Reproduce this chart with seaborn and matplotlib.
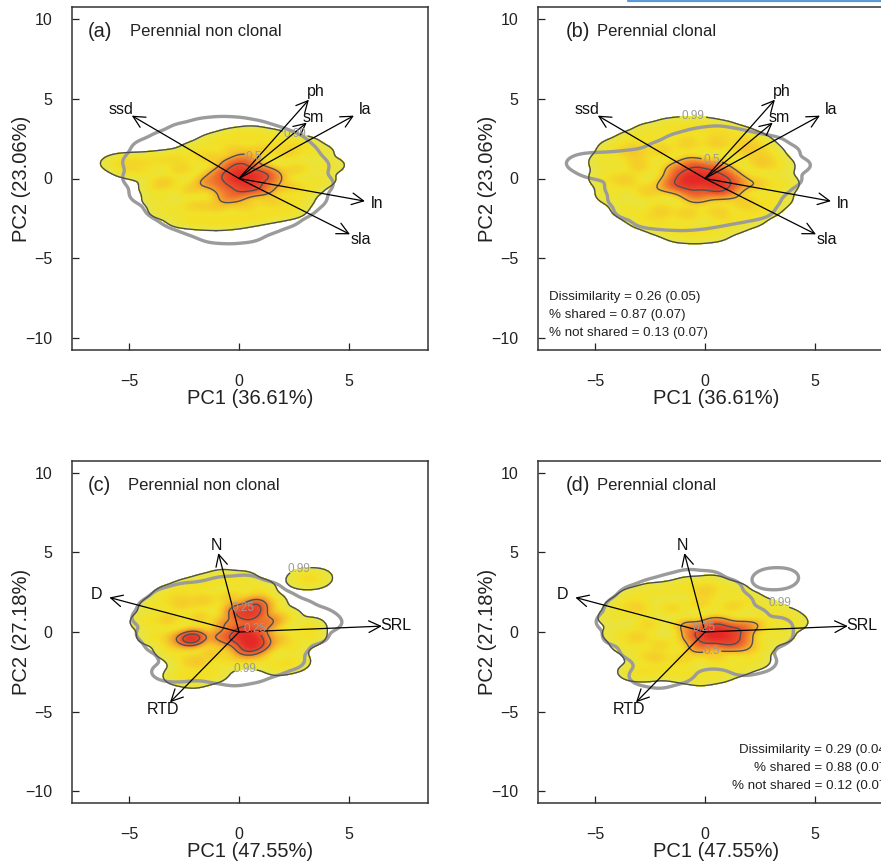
import numpy as np
import matplotlib
matplotlib.use("Agg")
import matplotlib.pyplot as plt
import seaborn as sns
from matplotlib.colors import LinearSegmentedColormap
from matplotlib.lines import Line2D

# ------------------------------------------------------------------
# DATA (species scores on the PCA axes, estimated from the figure;
# each group = core / middle / outer species with abundance weights)
# ------------------------------------------------------------------
w_core, w_mid, w_out = 4.0, 2.0, 1.0

# --- above-ground traits: perennial non clonal (panel a)
nca_core_pc1 = [0.0, 0.4, 0.8, -0.4, 0.2, 0.6, -0.2, 0.5, 1.2, -0.9, -0.7, 0.1, 1.1, 1.5, -1.4, -0.3,
                0.3, -0.5]
nca_core_pc2 = [0.1, 0.2, 0.0, -0.1, -0.4, -0.5, 0.5, 0.7, 0.4, 0.3, -0.6, -0.9, -0.7, 0.0, -0.2, 0.9,
                1.2, -1.2]
nca_mid_pc1 = [-2.6, -2.2, -2.0, -1.0, 0.3, 1.5, 2.2, 2.6, 2.2, 1.0, -0.2, -1.3, -3.4]
nca_mid_pc2 = [0.6, -0.7, -1.7, -1.8, -1.7, -1.4, -0.5, 0.6, 1.6, 1.8, 1.8, 1.3, -0.2]
nca_out_pc1 = [-5.5, -4.8, -4.0, -3.3, -2.6, -1.9, -1.1, -0.3, 0.5, 1.3, 2.1, 2.9, 3.5, 4.0,
               3.6, 3.0, 2.6, 2.3, 1.5, 0.7, -0.1, -0.9, -1.7, -2.5, -3.3, -3.6, -3.7, -4.3, -5.0]
nca_out_pc2 = [1.0, 1.05, 1.1, 1.2, 1.3, 1.8, 2.3, 2.6, 2.75, 2.55, 2.3, 2.1, 1.6, 0.8,
               -0.1, -0.7, -1.4, -2.0, -2.2, -2.4, -2.6, -2.7, -2.65, -2.55, -2.0, -1.3, -0.6, 0.4, 0.6]

# --- above-ground traits: perennial clonal (panel b)
ca_core_pc1 = [-0.7, -0.3, 0.2, 0.6, -1.1, -0.2, 0.3, 1.0, -0.7, -1.3, 0.9, 0.5, 1.4, -1.6, -0.4, -0.6]
ca_core_pc2 = [0.1, -0.1, 0.0, -0.3, -0.2, 0.5, -0.7, 0.2, -0.6, 0.5, -0.8, 0.7, -0.3, -0.4, -1.1, 0.9]
ca_mid_pc1 = [-3.0, -2.6, -2.0, -0.8, 0.6, 1.8, 2.4, 2.5, 1.8, 0.5, -0.8, -2.0, -3.2, -3.6]
ca_mid_pc2 = [0.8, -0.8, -2.0, -2.2, -2.1, -1.5, -0.3, 1.0, 1.8, 2.2, 2.2, 1.8, 1.6, -0.1]
ca_out_pc1 = [-4.5, -4.1, -3.3, -2.5, -1.6, -0.8, 0.0, 0.8, 1.6, 2.3, 2.8, 3.3, 3.5, 3.2,
              2.7, 2.0, 1.2, 0.4, -0.4, -1.2, -2.0, -2.8, -3.5, -4.2, -4.5]
ca_out_pc2 = [1.0, 1.8, 2.3, 2.8, 3.1, 3.2, 3.15, 2.95, 2.6, 2.2, 1.6, 0.8, -0.3, -1.2,
              -1.8, -2.4, -2.8, -3.3, -3.4, -3.35, -2.9, -2.5, -1.9, -1.0, 0.0]

above_traits = ["ssd", "ph", "sm", "la", "ln", "sla"]
above_load_pc1 = [-4.88, 3.18, 3.08, 5.23, 5.73, 5.05]
above_load_pc2 = [3.94, 4.94, 3.50, 3.94, -1.42, -3.50]

# --- root traits: perennial non clonal (panel c)
ncr_core_pc1 = [0.3, 0.6, 0.0, 0.9, 0.4, -0.3, 1.1, 0.2, -0.6, 0.5, 1.2, -0.2, 0.9, -0.9, 0.6,
                0.7, 0.1, -2.3, -2.0, -2.15]
ncr_core_pc2 = [-0.3, -0.6, 0.0, -0.2, 0.3, -0.5, -0.8, -1.0, 0.5, 1.0, 0.5, 1.4, 1.3, -0.3, -1.1,
                1.7, 1.1, -0.4, -0.3, -0.5]
ncr_mid_pc1 = [-3.2, -2.6, -1.6, -0.4, 0.8, 1.6, 1.9, -1.2, -3.0, -1.8, -1.9]
ncr_mid_pc2 = [0.8, 1.8, 2.0, 2.2, 1.9, 0.8, -0.4, -1.3, -0.4, 0.9, -1.9]
ncr_out_pc1 = [-4.2, -3.8, -3.2, -2.4, -1.6, -0.8, 0.1, 0.9, 1.4, 2.1, 3.2, 3.2, 2.4, 2.5,
               1.8, 1.0, 0.2, -0.5, -1.2, -2.0, -2.7, -2.5, -3.1, -3.9, 2.9, 3.5]
ncr_out_pc2 = [0.7, 1.6, 2.3, 2.7, 3.0, 3.3, 3.2, 2.7, 1.8, 0.9, 0.3, -0.3, -1.0, -1.9,
               -2.1, -1.7, -1.6, -1.8, -2.6, -2.9, -2.7, -1.7, -1.1, -0.2, 3.35, 3.35]

# --- root traits: perennial clonal (panel d)
cr_core_pc1 = [0.6, 0.2, 1.0, 0.4, -0.2, 1.4, 0.0, 0.8, -0.6, 1.7, 0.4, -0.8, 0.9, 1.3, -0.3, 1.8]
cr_core_pc2 = [-0.1, 0.1, -0.2, -0.4, 0.0, 0.1, -0.6, 0.4, -0.3, -0.4, 0.6, 0.4, -0.8, -0.7, -1.0, 0.3]
cr_mid_pc1 = [-2.6, -2.0, -1.5, -0.2, 1.2, 2.4, 1.8, 0.5, -1.0, -3.0, 0.0, -3.0, -2.2]
cr_mid_pc2 = [0.5, -0.8, 1.5, 1.8, 1.6, 0.5, -1.1, -1.6, -1.7, 1.5, 2.5, -0.3, -1.6]
cr_out_pc1 = [-4.1, -3.8, -3.2, -2.4, -1.5, -0.7, 0.3, 1.2, 1.9, 2.7, 3.5, 3.9, 3.3, 2.4,
              2.2, 1.4, 0.6, -0.2, -1.0, -1.8, -2.6, -3.2, -2.9, -3.5, -3.9]
cr_out_pc2 = [0.9, 1.6, 2.2, 2.5, 2.6, 2.9, 3.0, 2.6, 2.0, 1.5, 1.0, 0.6, -0.2, -0.9,
              -1.8, -2.2, -2.6, -2.8, -2.6, -2.4, -2.5, -2.5, -1.5, -0.8, -0.1]

root_traits = ["N", "D", "RTD", "SRL"]
root_load_pc1 = [-0.94, -5.90, -3.14, 6.50]
root_load_pc2 = [4.96, 2.17, -4.42, 0.37]

x_ticks = [-5, 0, 5]
y_ticks = [-10, -5, 0, 5, 10]
contour_props = [0.01, 0.5, 0.75]          # iso-proportions (99 %, 50 %, 25 % contours)
contour_names = ["0.99", "0.5", "0.25"]


def group(core_x, core_y, mid_x, mid_y, out_x, out_y):
    x = list(core_x) + list(mid_x) + list(out_x)
    y = list(core_y) + list(mid_y) + list(out_y)
    w = [w_core] * len(core_x) + [w_mid] * len(mid_x) + [w_out] * len(out_x)
    return x, y, w


NCA = group(nca_core_pc1, nca_core_pc2, nca_mid_pc1, nca_mid_pc2, nca_out_pc1, nca_out_pc2)
CA = group(ca_core_pc1, ca_core_pc2, ca_mid_pc1, ca_mid_pc2, ca_out_pc1, ca_out_pc2)
NCR = group(ncr_core_pc1, ncr_core_pc2, ncr_mid_pc1, ncr_mid_pc2, ncr_out_pc1, ncr_out_pc2)
CR = group(cr_core_pc1, cr_core_pc2, cr_mid_pc1, cr_mid_pc2, cr_out_pc1, cr_out_pc2)

# ------------------------------------------------------------------
# STYLE
# ------------------------------------------------------------------
sns.set_style("ticks")
plt.rcParams["font.family"] = ["Liberation Sans", "DejaVu Sans"]

cmap = LinearSegmentedColormap.from_list(
    "yr", [(0.0, "#E6E447"), (0.08, "#F2E126"), (0.2, "#F5C42A"),
           (0.36, "#F2962E"), (0.62, "#EC5A2C"), (1.0, "#E42626")])

fig = plt.figure(figsize=(8.81, 8.65), dpi=100)
W, H = 881, 865
def add_ax(left, top, right, bottom):
    return fig.add_axes([left / W, 1 - bottom / H, (right - left) / W, (bottom - top) / H])

ax_a = add_ax(72, 7, 428, 350)
ax_b = add_ax(538, 7, 894, 350)
ax_c = add_ax(72, 461, 428, 803)
ax_d = add_ax(538, 461, 894, 803)

panels = [
    dict(ax=ax_a, tag="(a)", title="Perennial non clonal", tag_x=0.045, title_x=0.163,
         focal=NCA, other=CA,
         names=above_traits, lx=above_load_pc1, ly=above_load_pc2,
         xlab="PC1 (36.61%)", ylab="PC2 (23.06%)",
         clab=[(2.45, 2.6), (0.73, 1.4)], stats=None),
    dict(ax=ax_b, tag="(b)", title="Perennial clonal", tag_x=0.079, title_x=0.166,
         focal=CA, other=NCA,
         names=above_traits, lx=above_load_pc1, ly=above_load_pc2,
         xlab="PC1 (36.61%)", ylab="PC2 (23.06%)",
         clab=[(-0.55, 3.9), (0.3, 1.1)],
         stats=(["Dissimilarity = 0.26 (0.05)", "% shared = 0.87 (0.07)",
                 "% not shared = 0.13 (0.07)"], 0.031, "left")),
    dict(ax=ax_c, tag="(c)", title="Perennial non clonal", tag_x=0.045, title_x=0.157,
         focal=NCR, other=CR,
         names=root_traits, lx=root_load_pc1, ly=root_load_pc2,
         xlab="PC1 (47.55%)", ylab="PC2 (27.18%)",
         clab=[(3.0, 3.45), (0.27, -2.07), (0.18, 1.5), (0.35, -0.06)], stats=None),
    dict(ax=ax_d, tag="(d)", title="Perennial clonal", tag_x=0.079, title_x=0.166,
         focal=CR, other=NCR,
         names=root_traits, lx=root_load_pc1, ly=root_load_pc2,
         xlab="PC1 (47.55%)", ylab="PC2 (27.18%)",
         clab=[(3.18, 1.6), (-0.1, 0.33), (0.3, -1.1)],
         stats=(["Dissimilarity = 0.29 (0.04)", "% shared = 0.88 (0.07)",
                 "% not shared = 0.12 (0.07)"], 0.99, "right")),
]

KDE = dict(bw_method=0.26, gridsize=220, cut=3)
for p in panels:
    ax = p["ax"]
    fx, fy, fw = p["focal"]
    ox, oy, ow = p["other"]
    # filled density of the focal group
    sns.kdeplot(x=fx, y=fy, weights=fw, ax=ax, fill=True, levels=60, thresh=0.01,
                cmap=cmap, **KDE)
    fill_cs = ax.collections[-1]
    fill_cs.set_edgecolor("face")
    fill_cs.set_linewidth(0.6)
    # 0.99 contour of the other group (thick grey)
    sns.kdeplot(x=ox, y=oy, weights=ow, ax=ax, levels=[0.01], colors="#9b9b9b",
                linewidths=2.4, **KDE)
    # contour lines of focal group
    sns.kdeplot(x=fx, y=fy, weights=fw, ax=ax, levels=contour_props, colors="#4f4f4f",
                linewidths=1.0, **KDE)
    cs = ax.collections[-1]
    fmt = {lv: nm for lv, nm in zip(sorted(cs.levels), contour_names)}
    try:
        ax.clabel(cs, fmt=fmt, manual=p["clab"], inline=True, fontsize=8.5,
                  colors="#9a9a9a")
        for t in cs.labelTexts:
            t.set_rotation(0)
    except Exception:
        pass

    # loadings arrows
    for nm, x1, y1 in zip(p["names"], p["lx"], p["ly"]):
        ax.annotate("", xy=(x1, y1), xytext=(0, 0),
                    arrowprops=dict(arrowstyle="->,head_length=0.7,head_width=0.35",
                                    lw=0.9, color="black", shrinkA=0, shrinkB=0,
                                    mutation_scale=12))
        ax.text(x1 * 1.1, y1 * 1.1, nm, ha="center", va="center", fontsize=11.5,
                color="#111111")

    ax.text(p["tag_x"], 0.928, p["tag"], transform=ax.transAxes, ha="left",
            va="center", fontsize=14.3, color="#222222")
    ax.text(p["title_x"], 0.928, p["title"], transform=ax.transAxes, ha="left",
            va="center", fontsize=12, color="#222222")

    if p["stats"] is not None:
        lines, sx, sha = p["stats"]
        for i, t in enumerate(lines):
            ax.text(sx, 0.155 - 0.052 * i, t, transform=ax.transAxes, ha=sha,
                    va="center", fontsize=9.6, color="#222222")

    ax.set_xlim(-7.6, 8.6)
    ax.set_ylim(-10.75, 10.75)
    ax.set_xticks(x_ticks)
    ax.set_yticks(y_ticks)
    ax.set_xticklabels([f"{v}".replace("-", "\u2212") for v in x_ticks])
    ax.set_yticklabels([f"{v}".replace("-", "\u2212") for v in y_ticks])
    ax.tick_params(axis="x", direction="in", length=5, width=0.9, pad=17,
                   labelsize=11.5, colors="#222222")
    ax.tick_params(axis="y", direction="in", length=5, width=0.9, pad=14,
                   labelsize=11.5, colors="#222222")
    for s in ax.spines.values():
        s.set_visible(True)
        s.set_linewidth(1.1)
        s.set_color("#333333")
    ax.set_xlabel(p["xlab"], fontsize=14.5, color="#222222")
    ax.set_ylabel(p["ylab"], fontsize=14.5, color="#222222")
    ax.xaxis.set_label_coords(0.5, -0.114)
    ax.yaxis.set_label_coords(-0.115, 0.5)
    ax.set_facecolor("white")

fig.add_artist(Line2D([628 / W, 1.0], [0.9985, 0.9985], transform=fig.transFigure,
                      color="#5B9BD5", lw=1.6))

fig.savefig("out.png", dpi=100, facecolor="white")
